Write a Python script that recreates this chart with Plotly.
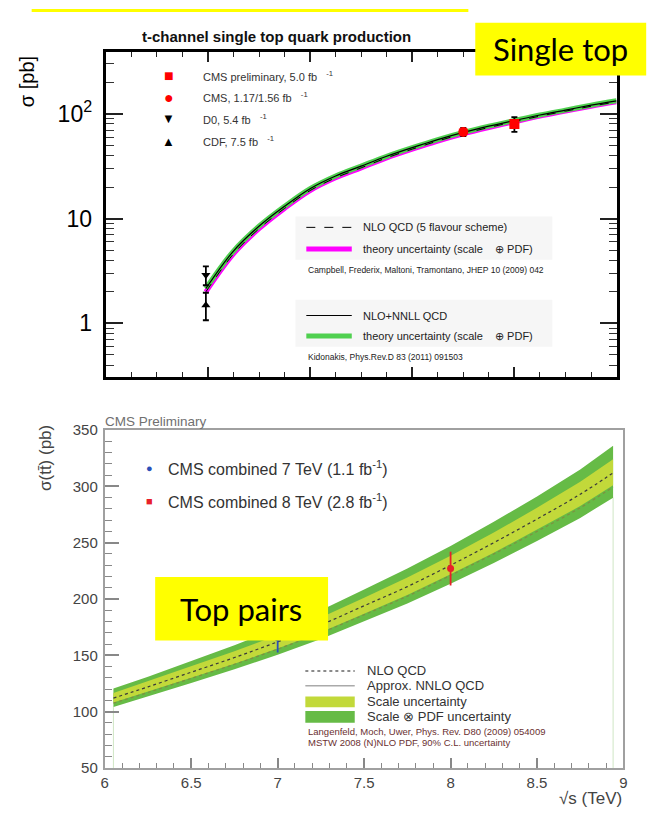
import plotly.graph_objects as go

# ---------------- top panel: t-channel single top ----------------
st_sqrts = [1.96, 2.5, 3.0, 3.5, 4.0, 4.5, 5.0, 5.5, 6.0, 6.5, 7.0, 7.5, 8.0, 8.5, 9.0, 9.5, 10.0]
st_nlo = [2.0, 4.6, 8.0, 12.5, 18.5, 24.5, 30.5, 38.0, 46.0, 55.0, 64.5, 74.0, 84.0, 95.0, 106.0, 118.0, 130.0]
st_nnll = [2.15, 4.9, 8.45, 13.1, 19.3, 25.5, 31.7, 39.3, 47.5, 56.7, 66.4, 76.2, 86.3, 97.4, 108.5, 120.8, 133.0]

meas_names = ["CMS preliminary, 5.0 fb", "CMS, 1.17/1.56 fb", "D0, 5.4 fb", "CDF, 7.5 fb"]
meas_sqrts = [8.0, 7.0, 1.96, 1.96]
meas_sigma = [80.1, 67.2, 2.90, 1.49]
meas_err_hi = [13.0, 6.1, 0.59, 0.47]
meas_err_lo = [13.0, 6.1, 0.59, 0.42]
meas_symbols = ["square", "circle", "triangle-down", "triangle-up"]
meas_colors = ["#ff0000", "#ff0000", "#000000", "#000000"]
meas_glyphs = ["\u25a0", "\u25cf", "\u25bc", "\u25b2"]

st_ytickvals = [1, 10, 100]
st_yticktext = ["1", "10", "10<sup>2</sup>"]
st_yminor = [0.4, 0.5, 0.6, 0.7, 0.8, 0.9, 2, 3, 4, 5, 6, 7, 8, 9,
             20, 30, 40, 50, 60, 70, 80, 90, 200, 300]

# ---------------- bottom panel: top pairs ----------------
tt_sqrts = [6.05, 6.25, 6.5, 6.75, 7.0, 7.25, 7.5, 7.75, 8.0, 8.25, 8.5, 8.75, 8.94]
tt_nnlo = [112, 122, 135, 148, 162, 177, 194, 211, 230, 250, 271, 293, 312]
tt_nlo = [107.5, 117, 129.5, 142, 155.5, 170, 186, 202.5, 221, 240, 260, 281, 299.5]
tt_scale_hi = [116.5, 127, 140, 153.5, 168, 183.5, 201, 219, 238.5, 259, 281, 304, 324]
tt_scale_lo = [108, 117.5, 130, 142.5, 156, 170.5, 187, 203.5, 222, 241, 261.5, 282.5, 301]
tt_tot_hi = [120.5, 131, 145, 159, 174, 190, 208.5, 227, 247, 268.5, 291, 315, 336]
tt_tot_lo = [104, 113.5, 125.5, 137.5, 150.5, 164.5, 180, 196, 213.5, 232, 251.5, 272, 290]
tt_ymin = 50

tt_meas_names = ["CMS combined 7 TeV (1.1 fb<sup>-1</sup>)", "CMS combined 8 TeV (2.8 fb<sup>-1</sup>)"]
tt_meas_sqrts = [7.0, 8.0]
tt_meas_sigma = [165.8, 227.0]
tt_meas_err = [13.3, 15.0]
tt_meas_colors = ["#2a4fb8", "#e8202a"]

W, H = 666, 819
def px(x): return x / W
def py(y): return 1 - y / H

FONT = "Liberation Sans, Arial, sans-serif"
fig = go.Figure()

# ---- top theory curves ----
fig.add_trace(go.Scatter(x=st_sqrts, y=st_nlo, mode="lines", xaxis="x", yaxis="y",
                         line=dict(color="#ff00ff", width=5, shape="spline"), hoverinfo="skip", showlegend=False))
fig.add_trace(go.Scatter(x=st_sqrts, y=st_nnll, mode="lines", xaxis="x", yaxis="y",
                         line=dict(color="#4fd04f", width=5, shape="spline"), hoverinfo="skip", showlegend=False))
fig.add_trace(go.Scatter(x=st_sqrts, y=st_nlo, mode="lines", xaxis="x", yaxis="y",
                         line=dict(color="#000000", width=1, dash="dash", shape="spline"), hoverinfo="skip", showlegend=False))
fig.add_trace(go.Scatter(x=st_sqrts, y=st_nnll, mode="lines", xaxis="x", yaxis="y",
                         line=dict(color="#000000", width=1.2, shape="spline"), hoverinfo="skip", showlegend=False))

for i in range(len(meas_names)):
    fig.add_trace(go.Scatter(
        x=[meas_sqrts[i]], y=[meas_sigma[i]], mode="markers", xaxis="x", yaxis="y",
        marker=dict(symbol=meas_symbols[i], color=meas_colors[i], size=10 if i < 2 else 8),
        error_y=dict(type="data", array=[meas_err_hi[i]], arrayminus=[meas_err_lo[i]],
                     color="#000000", thickness=1.8, width=3),
        name=meas_names[i], showlegend=False, hoverinfo="skip"))

# ---- bottom bands ----
for xe, ye in ((tt_sqrts[0], tt_tot_lo[0]), (tt_sqrts[-1], tt_tot_lo[-1])):
    fig.add_trace(go.Scatter(x=[xe, xe], y=[tt_ymin, ye], mode="lines", xaxis="x2", yaxis="y2",
                             line=dict(color="#cfe6c4", width=1), hoverinfo="skip", showlegend=False))
fig.add_trace(go.Scatter(x=tt_sqrts + tt_sqrts[::-1], y=tt_tot_hi + tt_tot_lo[::-1],
                         fill="toself", fillcolor="#66bb46", line=dict(width=0),
                         mode="lines", xaxis="x2", yaxis="y2", hoverinfo="skip", showlegend=False))
fig.add_trace(go.Scatter(x=tt_sqrts + tt_sqrts[::-1], y=tt_scale_hi + tt_scale_lo[::-1],
                         fill="toself", fillcolor="#c2d93a", line=dict(width=0),
                         mode="lines", xaxis="x2", yaxis="y2", hoverinfo="skip", showlegend=False))
fig.add_trace(go.Scatter(x=tt_sqrts, y=tt_nlo, mode="lines", xaxis="x2", yaxis="y2",
                         line=dict(color="#7f8f40", width=1.2, dash="dot", shape="spline"),
                         hoverinfo="skip", showlegend=False))
fig.add_trace(go.Scatter(x=tt_sqrts, y=tt_nnlo, mode="lines", xaxis="x2", yaxis="y2",
                         line=dict(color="#3a3a3a", width=1.2, dash="dot", shape="spline"),
                         hoverinfo="skip", showlegend=False))
for i in range(len(tt_meas_names)):
    fig.add_trace(go.Scatter(
        x=[tt_meas_sqrts[i]], y=[tt_meas_sigma[i]], mode="markers", xaxis="x2", yaxis="y2",
        marker=dict(symbol="circle", color=tt_meas_colors[i], size=7),
        error_y=dict(type="data", array=[tt_meas_err[i]], color=tt_meas_colors[i], thickness=1.8, width=0),
        name=tt_meas_names[i], showlegend=False, hoverinfo="skip"))

shapes = []
ann = []

def text(x, y, s, size, color="#222", xanchor="left", yanchor="middle", bold=False, family=FONT, angle=0):
    ann.append(dict(x=px(x), y=py(y), xref="paper", yref="paper", text=("<b>%s</b>" % s) if bold else s,
                    showarrow=False, xanchor=xanchor, yanchor=yanchor, textangle=angle,
                    font=dict(size=size, color=color, family=family)))

def hline(x0, x1, y, color, width, dash="solid"):
    shapes.append(dict(type="line", xref="paper", yref="paper", x0=px(x0), x1=px(x1), y0=py(y), y1=py(y),
                       line=dict(color=color, width=width, dash=dash)))

def rect(x0, y0, x1, y1, color, layer="above"):
    shapes.append(dict(type="rect", xref="paper", yref="paper", x0=px(x0), x1=px(x1), y0=py(y1), y1=py(y0),
                       fillcolor=color, line=dict(width=0), layer=layer))

# ---- top panel decorations ----
text(276, 28, "t-channel single top quark production", 15, "#111", xanchor="center", bold=True)
text(24, 74, "\u03c3 [pb]", 20, "#000", xanchor="center", angle=-90)

rows_y = [68, 90, 112, 135]
glyph_sizes = [16, 16, 13, 13]
for i in range(len(meas_names)):
    text(167, rows_y[i], meas_glyphs[i], glyph_sizes[i], meas_colors[i], xanchor="center")
    text(199, rows_y[i], meas_names[i] + "   <sup>-1</sup>", 11, "#333")

rect(295, 212, 555, 256, "#f6f6f6", layer="below")
rect(295, 297, 555, 345, "#f6f6f6", layer="below")
hline(306, 352, 223, "#000", 1, "dash")
hline(306, 352, 245, "#ff00ff", 5)
hline(306, 352, 313, "#000", 1)
hline(306, 352, 334, "#4fd04f", 5)
text(361, 223, "NLO QCD (5 flavour scheme)", 11, "#222")
text(361, 245, "theory uncertainty (scale    \u2295 PDF)", 11, "#222")
text(306, 267, "Campbell, Frederix, Maltoni, Tramontano, JHEP 10 (2009) 042", 8.5, "#222")
text(361, 313, "NLO+NNLL QCD", 11, "#222")
text(361, 334, "theory uncertainty (scale    \u2295 PDF)", 11, "#222")
text(306, 355, "Kidonakis, Phys.Rev.D 83 (2011) 091503", 8.5, "#222")

# ---- bottom panel decorations ----
text(100, 421, "CMS Preliminary", 13.5, "#707070")
text(42, 458, "\u03c3(tt\u0304) (pb)", 17, "#444", xanchor="center", angle=-90)
legend_y = [469, 502]
legend_glyph = ["\u25cf", "\u25a0"]
for i in range(len(tt_meas_names)):
    text(147, legend_y[i], legend_glyph[i], 11, tt_meas_colors[i], xanchor="center")
    text(164, legend_y[i], tt_meas_names[i], 16, "#333")

hline(305, 355, 676, "#666", 1.5, "dot")
hline(305, 355, 691, "#aaaaaa", 1.5)
rect(305, 702, 355, 713, "#c2d93a")
rect(305, 717, 355, 729, "#66bb46")
text(365, 676, "NLO QCD", 13, "#333")
text(365, 691, "Approx. NNLO QCD", 13, "#333")
text(365, 707, "Scale uncertainty", 13, "#333")
text(365, 723, "Scale \u2297 PDF uncertainty", 13, "#333")
text(306, 738, "Langenfeld, Moch, Uwer, Phys. Rev. D80 (2009) 054009", 9.5, "#6a3030")
text(306, 749, "MSTW 2008 (N)NLO PDF, 90% C.L. uncertainty", 9.5, "#6a3030")
text(628, 806, "\u221as (TeV)", 17, "#444", xanchor="right")

# ---- yellow labels ----
rect(28, 0, 470, 3, "#ffff00")
rect(477, 14, 650, 68, "#ffff00")
text(563, 41, "Single top", 31, "#000", xanchor="center", family="Lato, Open Sans, sans-serif")
rect(153, 580, 328, 645, "#ffff00")
text(240, 613, "Top pairs", 31, "#000", xanchor="center", family="Lato, Open Sans, sans-serif")

fig.update_layout(
    width=W, height=H, margin=dict(l=0, r=0, t=0, b=0),
    paper_bgcolor="white", plot_bgcolor="white", showlegend=False,
    font=dict(family=FONT),
    xaxis=dict(domain=[px(103), px(620)], anchor="y", range=[0, 10], dtick=2, tick0=0,
               showline=True, linecolor="#000", linewidth=3, mirror="allticks",
               ticks="inside", ticklen=10, tickwidth=1.5, tickcolor="#222",
               showticklabels=False, showgrid=False, zeroline=False,
               minor=dict(dtick=0.5, tick0=0, ticks="inside", ticklen=5, tickwidth=1.2,
                          tickcolor="#222", showgrid=False)),
    yaxis=dict(domain=[py(376), py(44)], anchor="x", type="log", range=[-0.514, 2.589],
               tickmode="array", tickvals=st_ytickvals, ticktext=st_yticktext,
               showline=True, linecolor="#000", linewidth=3, mirror="allticks",
               ticks="inside", ticklen=17, tickwidth=1.5, tickcolor="#222",
               tickfont=dict(size=23, color="#000", family=FONT), ticklabelstandoff=6,
               showgrid=False, zeroline=False,
               minor=dict(tickmode="array", tickvals=st_yminor, ticks="inside", ticklen=8,
                          tickwidth=1.2, tickcolor="#333", showgrid=False)),
    xaxis2=dict(domain=[px(102), px(627)], anchor="y2", range=[6, 9], dtick=0.5, tick0=6,
                showline=True, linecolor="#a0a0a0", linewidth=2, mirror=True,
                ticks="inside", ticklen=10, tickwidth=1.5, tickcolor="#888",
                tickfont=dict(size=15, color="#444", family=FONT),
                showgrid=False, zeroline=False,
                minor=dict(dtick=0.1, tick0=6, ticks="inside", ticklen=5, tickwidth=1.2,
                           tickcolor="#888", showgrid=False)),
    yaxis2=dict(domain=[py(775), py(430)], anchor="x2", range=[50, 350], dtick=50, tick0=50,
                showline=True, linecolor="#a0a0a0", linewidth=2, mirror=True,
                ticks="inside", ticklen=14, tickwidth=1.5, tickcolor="#888",
                tickfont=dict(size=15, color="#444", family=FONT), ticklabelstandoff=2,
                showgrid=False, zeroline=False,
                minor=dict(dtick=10, tick0=50, ticks="inside", ticklen=7, tickwidth=1.2,
                           tickcolor="#888", showgrid=False)),
    shapes=shapes, annotations=ann,
)

fig.write_html("out.html")
